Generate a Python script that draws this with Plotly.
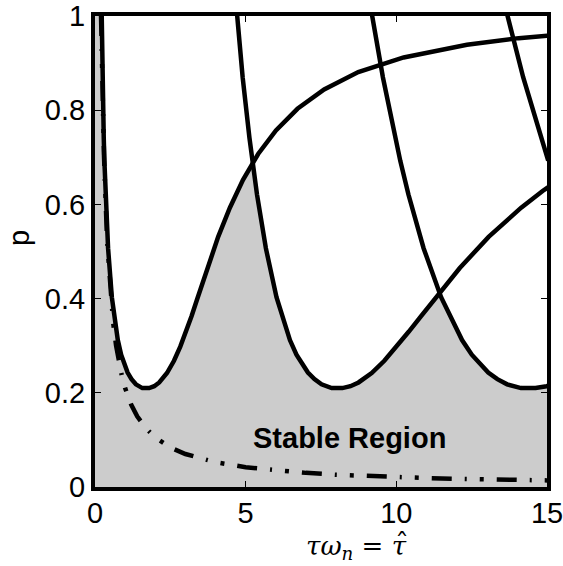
import numpy as np
import plotly.graph_objects as go

# ---- data (x = tau_hat, y = p) ----
# first stability boundary branch
a_x = [0.186, 0.212, 0.246, 0.290, 0.311, 0.349, 0.434, 0.559, 0.757, 0.868, 1.082, 1.212, 1.357,
       1.571, 1.797, 1.966, 2.132, 2.389, 2.621, 2.830, 3.024, 3.206, 3.381, 3.728, 4.087, 4.476,
       4.731, 4.912, 5.414, 6.005, 6.719, 7.605, 8.737, 10.242, 12.343, 14.06, 15.49]
a_y = [1.144, 1.004, 0.870, 0.742, 0.693, 0.621, 0.507, 0.403, 0.312, 0.281, 0.243, 0.229, 0.218,
       0.210, 0.210, 0.214, 0.222, 0.242, 0.268, 0.298, 0.330, 0.363, 0.397, 0.465, 0.531, 0.593,
       0.629, 0.652, 0.707, 0.757, 0.803, 0.844, 0.881, 0.912, 0.939, 0.953, 0.961]
# second branch
b_x = [4.519, 4.700, 4.900, 5.124, 5.220, 5.376, 5.670, 6.023, 6.469, 6.686, 7.066, 7.282, 7.517,
       7.854, 8.208, 8.477, 8.746, 9.182, 9.602, 10.011, 10.416, 10.822, 11.235, 12.106, 13.063,
       14.143, 14.865, 15.384]
b_y = [1.144, 1.004, 0.870, 0.742, 0.693, 0.621, 0.507, 0.403, 0.312, 0.281, 0.243, 0.229, 0.218,
       0.210, 0.210, 0.214, 0.222, 0.242, 0.268, 0.298, 0.330, 0.363, 0.397, 0.465, 0.531,
       0.593, 0.629, 0.652]
# third branch
c_x = [8.852, 9.188, 9.554, 9.957, 10.129, 10.402, 10.905, 11.486, 12.181, 12.504, 13.050, 13.353,
       13.677, 14.137, 14.620, 14.988, 15.36]
c_y = [1.144, 1.004, 0.870, 0.742, 0.693, 0.621, 0.507, 0.403, 0.312, 0.281, 0.243, 0.229,
       0.218, 0.210, 0.210, 0.214, 0.222]
# fourth branch
d_x = [13.186, 13.676, 14.209, 14.790, 15.04]
d_y = [1.144, 1.004, 0.870, 0.742, 0.693]
# dash-dot bound
e_x = [0.2, 0.25, 0.3, 0.4, 0.5, 0.6, 0.7, 0.8, 0.9, 1.0, 1.2, 1.4, 1.7, 2.0, 2.5, 3.0, 3.5, 4.0,
       5.0, 6.0, 7.0, 8.0, 9.0, 10.0, 11.0, 12.0, 13.0, 14.0, 15.0]
e_y = [1.0, 0.84, 0.70, 0.525, 0.42, 0.35, 0.30, 0.262, 0.233, 0.21, 0.175, 0.15, 0.124, 0.105,
       0.084, 0.07, 0.06, 0.0525, 0.042, 0.035, 0.030, 0.026, 0.023, 0.021, 0.019, 0.0175, 0.016,
       0.015, 0.014]

x_ticks = [0, 5, 10, 15]
y_ticks = [0, 0.2, 0.4, 0.6, 0.8, 1]
x_tick_text = ["0", "5", "10", "15"]
y_tick_text = ["0", "0.2", "0.4", "0.6", "0.8", "1"]

# ---- stable region: below the lower envelope of the boundaries ----
grid = np.linspace(0, 15, 1501)
def on_grid(xs, ys):
    return np.interp(grid, xs, ys, left=np.inf, right=np.inf)
env = np.minimum.reduce([on_grid(a_x, a_y), on_grid(b_x, b_y), on_grid(c_x, c_y), on_grid(d_x, d_y)])
env = np.minimum(env, 1.0)

fig = go.Figure()
fig.add_trace(go.Scatter(x=np.concatenate([[0], grid, [15]]), y=np.concatenate([[0], env, [0]]),
                         fill="toself", fillcolor="#cccccc", line=dict(width=0), mode="lines",
                         hoverinfo="skip"))
for xs, ys in [(a_x, a_y), (b_x, b_y), (c_x, c_y), (d_x, d_y)]:
    fig.add_trace(go.Scatter(x=xs, y=ys, mode="lines", line=dict(color="black", width=4.5)))
fig.add_trace(go.Scatter(x=e_x, y=e_y, mode="lines",
                         line=dict(color="black", width=4.5, dash="20px,13px,2px,13px,4px,13px")))

font = "Liberation Sans, Arial, sans-serif"
serif = "DejaVu Serif, serif"
W, H, L, R, T, B = 563, 566, 95, 16, 16, 79
pw, ph = W - L - R, H - T - B
def px(xp):
    return (xp - L) / pw
def py(yp):
    return (H - B - yp) / ph

fig.add_annotation(x=8.43, y=0.105, xref="x", yref="y", text="<b>Stable Region</b>", showarrow=False,
                   font=dict(family=font, size=29, color="black"), xanchor="center", yanchor="middle")
fig.add_annotation(x=px(409), y=py(547), xref="paper", yref="paper", xanchor="right", yanchor="middle",
                   text="<i>τω</i><sub><i>n</i></sub> = <i>τ</i>", showarrow=False,
                   font=dict(family=serif, size=26, color="black"))
fig.add_annotation(x=px(402), y=py(543), xref="paper", yref="paper", xanchor="center", yanchor="middle",
                   text="ˆ", showarrow=False, font=dict(family=serif, size=28, color="black"))
fig.add_annotation(x=px(19), y=py(238), xref="paper", yref="paper", xanchor="center", yanchor="middle",
                   text="p", textangle=-90, showarrow=False,
                   font=dict(family=font, size=29, color="black"))

fig.update_xaxes(range=[0, 15], tickvals=x_ticks, ticktext=x_tick_text, ticks="inside", ticklen=6,
                 tickwidth=1, tickcolor="black", showline=True, linewidth=4, linecolor="black",
                 mirror="ticks", showgrid=False, zeroline=False, automargin=False,
                 ticklabeloverflow="allow", ticklabelstandoff=-3,
                 tickfont=dict(family=font, size=29, color="black"))
fig.update_yaxes(range=[0, 1], tickvals=y_ticks, ticktext=y_tick_text, ticks="inside", ticklen=6,
                 tickwidth=1, tickcolor="black", showline=True, linewidth=4, linecolor="black",
                 mirror="ticks", showgrid=False, zeroline=False, automargin=False,
                 ticklabeloverflow="allow",
                 tickfont=dict(family=font, size=29, color="black"))
fig.update_layout(width=W, height=H, autosize=False, showlegend=False,
                  margin=dict(l=L, r=R, t=T, b=B), plot_bgcolor="white", paper_bgcolor="white")
fig.write_html("out.html", config={"displayModeBar": False},
               post_script="document.body.style.margin='0';document.body.style.overflow='hidden';")
